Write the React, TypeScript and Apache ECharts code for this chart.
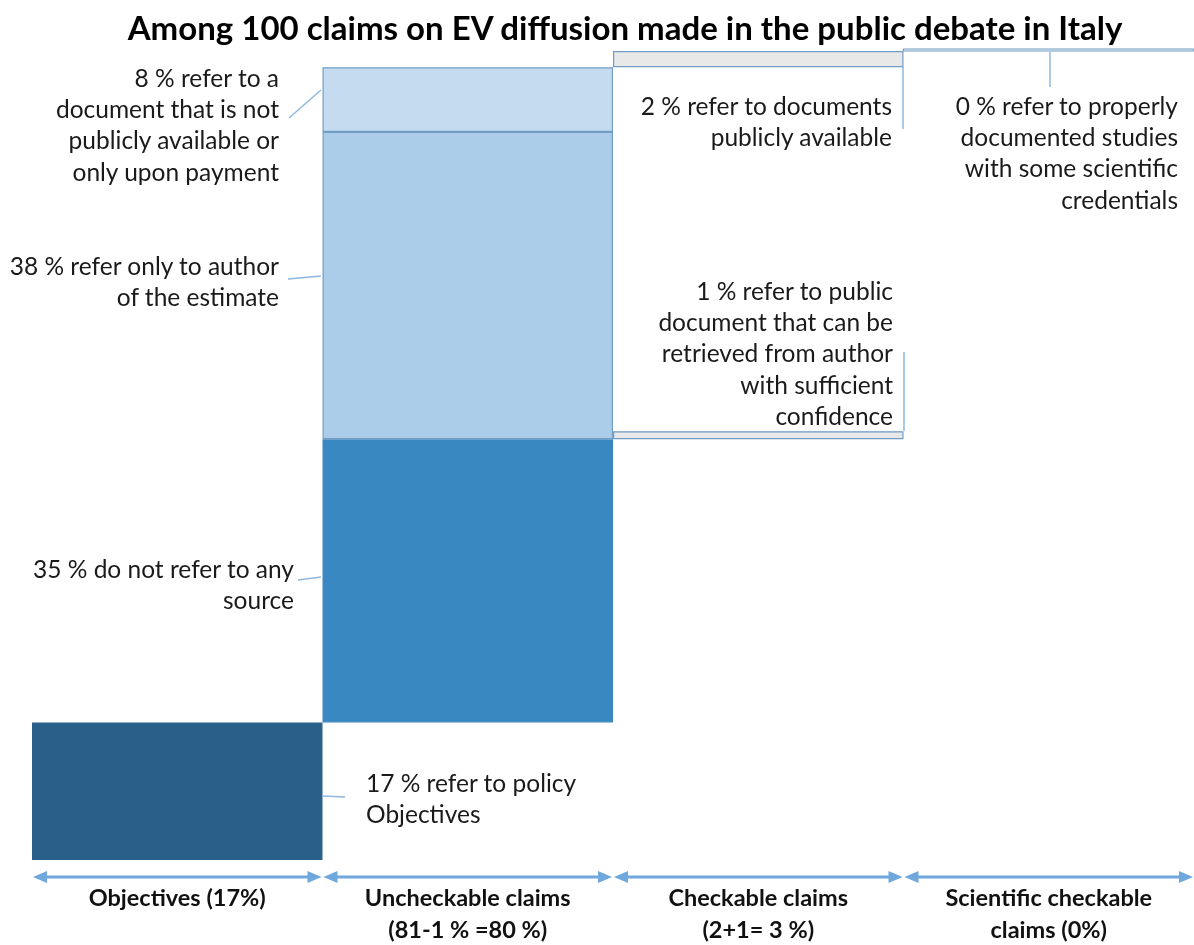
import React, { useEffect, useRef } from "react";
import * as echarts from "echarts";

const categories = [
  "Objectives (17%)",
  "Uncheckable claims\n(81-1 % =80 %)",
  "Checkable claims\n(2+1= 3 %)",
  "Scientific checkable\nclaims (0%)",
];
const total = 100;
const objectives = 17;
const noSource = 35;
const authorOnly = 38;
const notPublic = 8;
const retrievable = 1;
const publicDocs = 2;
const scientific = 0;

const title = "Among 100 claims on EV diffusion made in the public debate in Italy";
const notes = [
  { text: "8 % refer to a\ndocument that is not\npublicly available or\nonly upon payment", x: 279, y: 77, align: "right" },
  { text: "38 % refer only to author\nof the estimate", x: 279, y: 265, align: "right" },
  { text: "35 % do not refer to any\nsource", x: 294, y: 568, align: "right" },
  { text: "17 % refer to policy\nObjectives", x: 366, y: 782, align: "left" },
  { text: "2 % refer to documents\npublicly available", x: 892, y: 105, align: "right" },
  { text: "0 % refer to properly\ndocumented studies\nwith some scientific\ncredentials", x: 1178, y: 105, align: "right" },
  { text: "1 % refer to public\ndocument that can be\nretrieved from author\nwith sufficient\nconfidence", x: 893, y: 290, align: "right" },
];
const leaders = [
  [289, 118, 321, 90],
  [288, 279, 321, 276],
  [298, 580, 321, 577],
  [323, 796, 345, 797],
  [903, 67, 903, 129],
  [1050, 52, 1050, 87],
  [904, 352, 904, 431],
];

const FONT = "Lato, 'Open Sans', sans-serif";
const ARROW = "#6fa8dc";

export default function App() {
  const ref = useRef<HTMLDivElement>(null);
  useEffect(() => {
    if (!ref.current) return;
    const chart = echarts.init(ref.current, null, { renderer: "svg" });
    const checkBase = objectives + noSource;
    const gap = total - publicDocs - (checkBase + retrievable);
    const base = [0, objectives, checkBase, "-"];
    const bar = (name: string, data: any[], color: string, border: string, extra: any = {}) => ({
      type: "bar",
      name,
      stack: "all",
      data,
      barWidth: "100%",
      barCategoryGap: 0,
      itemStyle: { color, borderColor: border, borderWidth: 1.2 },
      silent: true,
      ...extra,
    });
    const option: any = {
      animation: false,
      grid: { left: 32, right: 0, top: 51, bottom: 85 },
      xAxis: {
        type: "category",
        data: categories,
        axisLine: { show: false },
        axisTick: { show: false },
        axisLabel: {
          interval: 0,
          margin: 21,
          fontFamily: FONT,
          fontWeight: "bold",
          fontSize: 23.5,
          lineHeight: 32,
          color: "#111",
        },
      },
      yAxis: { type: "value", min: 0, max: total, show: false },
      series: [
        bar("base", base, "transparent", "transparent", { itemStyle: { color: "transparent", borderWidth: 0 } }),
        bar("Objectives", [objectives, "-", "-", "-"], "#2a5f8a", "#2a5f8a"),
        bar("No source", ["-", noSource, "-", "-"], "#3a88c2", "#3a84bd"),
        bar("Retrievable", ["-", "-", retrievable, "-"], "#e8e8e8", "#6f9cc4"),
        bar("Author only", ["-", authorOnly, "-", "-"], "#abcdea", "#739fc6"),
        bar("gap", ["-", "-", gap, "-"], "transparent", "transparent", { itemStyle: { color: "transparent", borderWidth: 0 } }),
        bar("Not public", ["-", notPublic, "-", "-"], "#c5dcf0", "#739fc6"),
        bar("Public docs", ["-", "-", publicDocs, "-"], "#e8e8e8", "#6f9cc4"),
        {
          type: "custom",
          name: "Scientific",
          silent: true,
          clip: false,
          data: [[3, total - scientific, scientific]],
          encode: { x: 0, y: 1 },
          renderItem: (params: any, api: any) => {
            const p0 = api.coord([api.value(0), api.value(1)]);
            const p1 = api.coord([api.value(0), api.value(1) + api.value(2)]);
            const w = api.size([1, 0])[0];
            const h = Math.max(2, Math.abs(p0[1] - p1[1]));
            return {
              type: "rect",
              shape: { x: p0[0] - w / 2, y: p0[1] - h, width: w, height: h },
              style: { fill: "#f4f4f4", stroke: "#6f9cc4", lineWidth: 1.2 },
            };
          },
        },
        {
          type: "custom",
          silent: true,
          clip: false,
          data: categories.map((_, i) => [i, 0]),
          encode: { x: 0, y: 1 },
          renderItem: (params: any, api: any) => {
            const c = api.coord([api.value(0), 0]);
            const w = api.size([1, 0])[0];
            const x0 = c[0] - w / 2 + 1;
            const x1 = c[0] + w / 2 - 1;
            const y = c[1] + 17;
            const L = 14, H = 6;
            return {
              type: "group",
              children: [
                { type: "line", shape: { x1: x0 + 4, y1: y, x2: x1 - 4, y2: y }, style: { stroke: ARROW, lineWidth: 3 } },
                { type: "polygon", shape: { points: [[x0, y], [x0 + L, y - H], [x0 + L, y + H]] }, style: { fill: ARROW } },
                { type: "polygon", shape: { points: [[x1, y], [x1 - L, y - H], [x1 - L, y + H]] }, style: { fill: ARROW } },
              ],
            };
          },
        },
      ],
      graphic: [
        {
          type: "text",
          x: 625,
          y: 27,
          style: { text: title, font: `bold 33px ${FONT}`, fill: "#000", textAlign: "center", textVerticalAlign: "middle" },
        },
        ...notes.map((n) => ({
          type: "text",
          x: n.x,
          y: n.y - 15.5,
          style: {
            text: n.text,
            font: `24.5px ${FONT}`,
            fill: "#1a1a1a",
            textAlign: n.align,
            textVerticalAlign: "top",
            lineHeight: 31.3,
          },
        })),
        ...leaders.map((l) => ({
          type: "line",
          shape: { x1: l[0], y1: l[1], x2: l[2], y2: l[3] },
          style: { stroke: "#8fb8dd", lineWidth: 1.5 },
          z: 10,
        })),
      ],
    };
    chart.setOption(option);
    return () => chart.dispose();
  }, []);
  return <div ref={ref} style={{ position: "fixed", left: 0, top: 0, width: 1194, height: 945 }} />;
}
